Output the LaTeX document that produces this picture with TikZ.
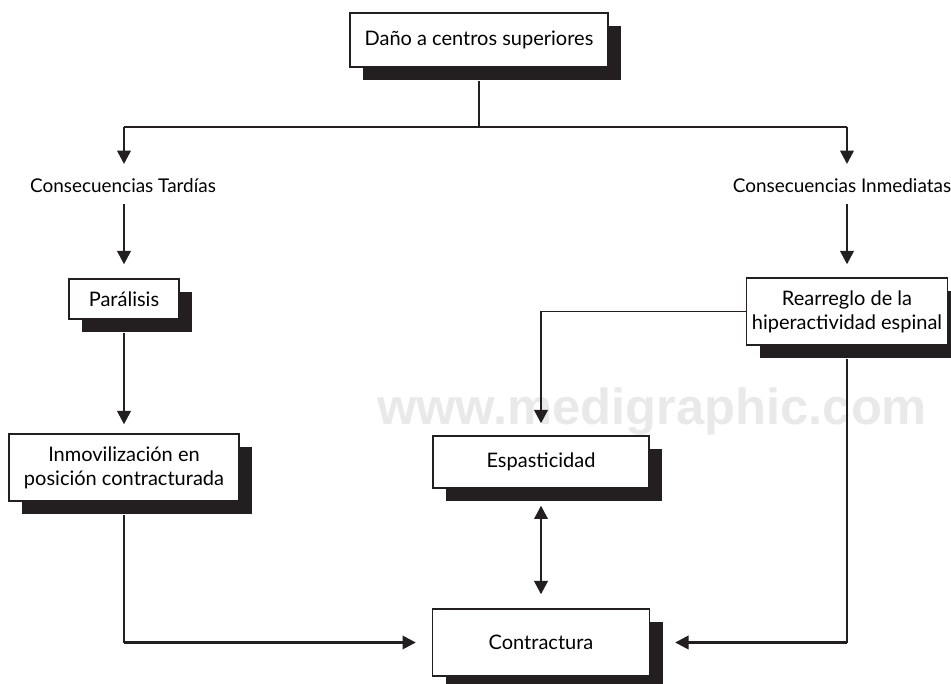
\documentclass[tikz,border=0pt]{standalone}
\usepackage{fontspec}
\setmainfont{Lato}
\newfontfamily\markfont{Liberation Sans}
\usepackage{xcolor}
\usepackage{tikz}
\usetikzlibrary{arrows.meta,positioning,shadows}

\definecolor{ink}{HTML}{231F20}

\begin{document}
\begin{tikzpicture}[
  x=0.75pt, y=-0.75pt,
  box/.style={draw=ink, fill=white, line width=1pt, align=center, inner sep=0pt,
    font=\fontsize{15}{18}\selectfont,
    drop shadow={shadow xshift=9.75pt, shadow yshift=-9.75pt, fill=ink, opacity=1}},
  tag/.style={inner sep=0pt, text height=11pt, text depth=2pt, font=\fontsize{14.2}{17}\selectfont},
  wire/.style={draw=ink, line width=0.9pt},
  arr/.style={draw=ink, -{Triangle[length=10pt,width=10pt]}, line width=1.9pt},
  darr/.style={draw=ink, {Triangle[length=10pt,width=10pt]}-{Triangle[length=10pt,width=10pt]}, line width=1.9pt}
]
\useasboundingbox (0,0) rectangle (951,684);

% watermark
\node[anchor=base, inner sep=0pt, text=gray!17, font=\fontsize{38}{38}\selectfont\markfont\bfseries] (mark) at (652,425) {www.medigraphic.com};

\node[box, minimum width=193.5pt, minimum height=40.5pt] (top) at (479,40) {Daño a centros superiores};
\node[tag] (tard) at (123,187) {Consecuencias Tardías};
\node[tag] (inme) at (842,187) {Consecuencias Inmediatas};
\node[box, minimum width=82.5pt, minimum height=30pt] (par) at (124,299) {Parálisis};
\node[box, minimum width=172.5pt, minimum height=50.25pt] (inm) at (124,467.5) {Inmovilización en\\posición contracturada};
\node[box, minimum width=150.75pt, minimum height=50.25pt] (rea) at (847,311.5) {Rearreglo de la\\hiperactividad espinal};
\node[box, minimum width=162pt, minimum height=39pt] (esp) at (541,462) {Espasticidad};
\node[box, minimum width=162.75pt, minimum height=50.25pt] (con) at (541,642.5) {Contractura};

\coordinate (split) at (479,127);
\coordinate (lft) at (par |- split);
\coordinate (rgt) at (rea |- split);
\coordinate (lbend) at (inm |- con);
\coordinate (rbend) at (rea |- con);
\coordinate (ebend) at (esp |- rea);

\draw[wire, shorten <=9.75pt] (top) -- (split);
\draw[wire] (lft) -- (rgt);
\draw[arr, shorten >=17.25pt] (lft) -- (lft |- tard);
\draw[arr, shorten >=17.25pt] (rgt) -- (rgt |- inme);
\draw[arr, shorten <=12.75pt, shorten >=10.5pt] (par |- tard) -- (par);
\draw[arr, shorten <=12.75pt, shorten >=9.75pt] (rgt |- inme) -- (rea);
\draw[arr, shorten <=9.75pt, shorten >=6.75pt] (par) -- (inm);
\draw[wire, shorten <=9.75pt] (inm) -- (lbend);
\draw[arr, shorten >=12pt] (lbend) -- (con);
\draw[wire, shorten <=9.75pt] (rea) -- (rbend);
\draw[arr, shorten >=18.75pt] (rbend) -- (con);
\draw[wire] (rea) -- (ebend);
\draw[arr, shorten >=9pt] (ebend) -- (esp);
\draw[darr, shorten <=12.75pt, shorten >=10.5pt] (esp) -- (con);
\end{tikzpicture}
\end{document}
